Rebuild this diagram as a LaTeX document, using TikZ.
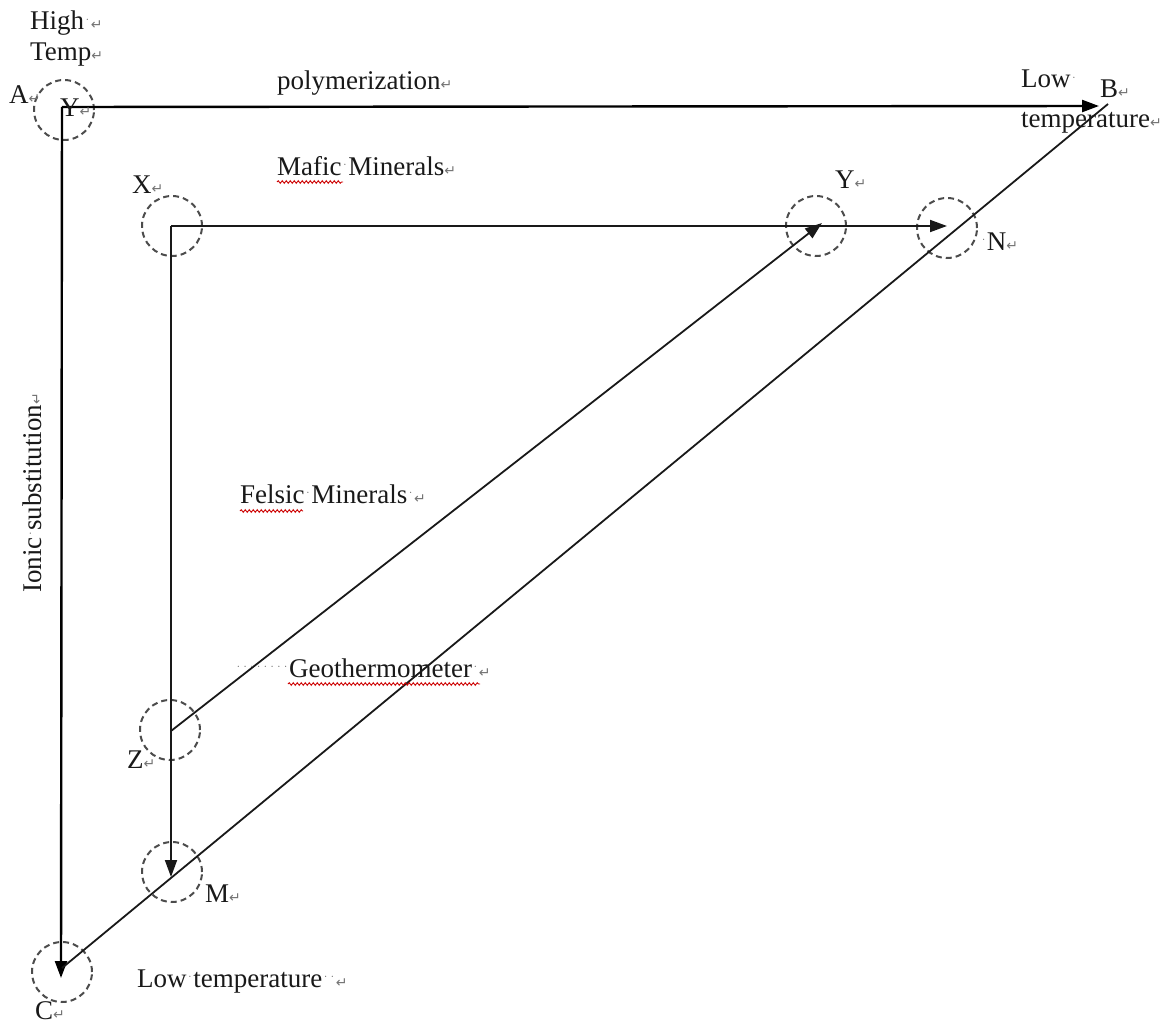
\documentclass[tikz,border=0pt]{standalone}
\usepackage{fontspec}
\setmainfont{Liberation Serif}
\newfontfamily\symf{DejaVu Sans}
\usetikzlibrary{arrows.meta,decorations.pathmorphing}
\newcommand\rt{{\symf\fontsize{14}{14}\selectfont\color{black!55}↵}}
\newcommand\spc{\makebox[0.25em][c]{\color{black!55}\raisebox{0.25em}{\fontsize{11}{11}\selectfont ·}}}
\tikzset{
  lbl/.style={anchor=base west, inner sep=0pt, text=black!90},
  dc/.style={circle, draw=black!70, dash pattern=on 6pt off 4pt, line width=2pt, minimum size=60pt, inner sep=0pt},
  ln/.style={draw=black, line width=2.4pt},
  thinln/.style={draw=black!90, line width=1.8pt},
  arr/.style={-{Triangle[length=17pt,width=12pt]}},
  wavy/.style={draw=red!80!black, line width=0.9pt, decorate, decoration={snake, amplitude=1.3pt, segment length=4pt}}
}
\begin{document}
\begin{tikzpicture}[x=1pt,y=-1pt, font=\fontsize{27}{31}\selectfont]
\useasboundingbox (0,0) rectangle (1176,1025);
% key points
\coordinate (pA) at (62,107);
\coordinate (pB) at (1099,106);
\coordinate (pBe) at (1108,104);
\coordinate (pC) at (61,978);
\coordinate (pC2) at (62,968);
\coordinate (pX) at (171,226);
\coordinate (pN) at (947,226);
\coordinate (pM) at (171,877);
\coordinate (pZ) at (171,731);
\coordinate (pY) at (822,223);
% dashed circles
\node[dc] (cA) at (64,110) {};
\node[dc] (cX) at (172,226) {};
\node[dc] (cY) at (816,226) {};
\node[dc] (cN) at (947,228) {};
\node[dc] (cZ) at (170,730) {};
\node[dc] (cM) at (172,872) {};
\node[dc] (cC) at (62,972) {};
% connectors
\draw[ln, arr] (pA) -- (pB);
\draw[ln, arr] (pA) -- (pC);
\draw[thinln] (pC2) -- (pBe);
\draw[thinln, arr] (pX) -- (pN);
\draw[thinln, arr] (pX) -- (pM);
\draw[thinln, arr] (pZ) -- (pY);
% labels
\node[lbl] (high) at (30,30) {High\spc\rt};
\node[lbl] (temp) at (30,61) {Temp\rt};
\node[lbl] (alab) at (9,103) {A\rt};
\node[lbl] (ylab0) at (60,117) {Y\rt};
\node[lbl] (poly) at (277,90) {polymerization\rt};
\node[lbl] (low1) at (1021,88) {Low\spc};
\node[lbl] (blab) at (1100,97) {B\rt};
\node[lbl] (temp2) at (1021,127) {temperature\rt};
\node[lbl] (mafic) at (277,175) {Mafic\spc Minerals\rt};
\node[lbl] (xlab) at (132,193) {X\rt};
\node[lbl] (ylab) at (835,188) {Y\rt};
\node[lbl] (nlab) at (980,250) {\spc N\rt};
\node[lbl, rotate=90] (ionic) at (41,593) {Ionic\spc substitution\rt};
\node[lbl] (felsic) at (240,503) {Felsic\spc Minerals\spc\rt};
\node[lbl] (geo) at (235,677) {\spc\spc\spc\spc\spc\spc\spc\spc Geothermometer\spc\rt};
\node[lbl] (zlab) at (127,768) {Z\rt};
\node[lbl] (mlab) at (205,902) {M\rt};
\node[lbl] (lowt) at (137,987) {Low\spc temperature\spc\spc\rt};
\node[lbl] (clab) at (35,1019) {C\rt};
% spell-check underlines
\draw[wavy] (277,182) -- (343,182);
\draw[wavy] (240,511) -- (303,511);
\draw[wavy] (288,684) -- (480,684);
\end{tikzpicture}
\end{document}
